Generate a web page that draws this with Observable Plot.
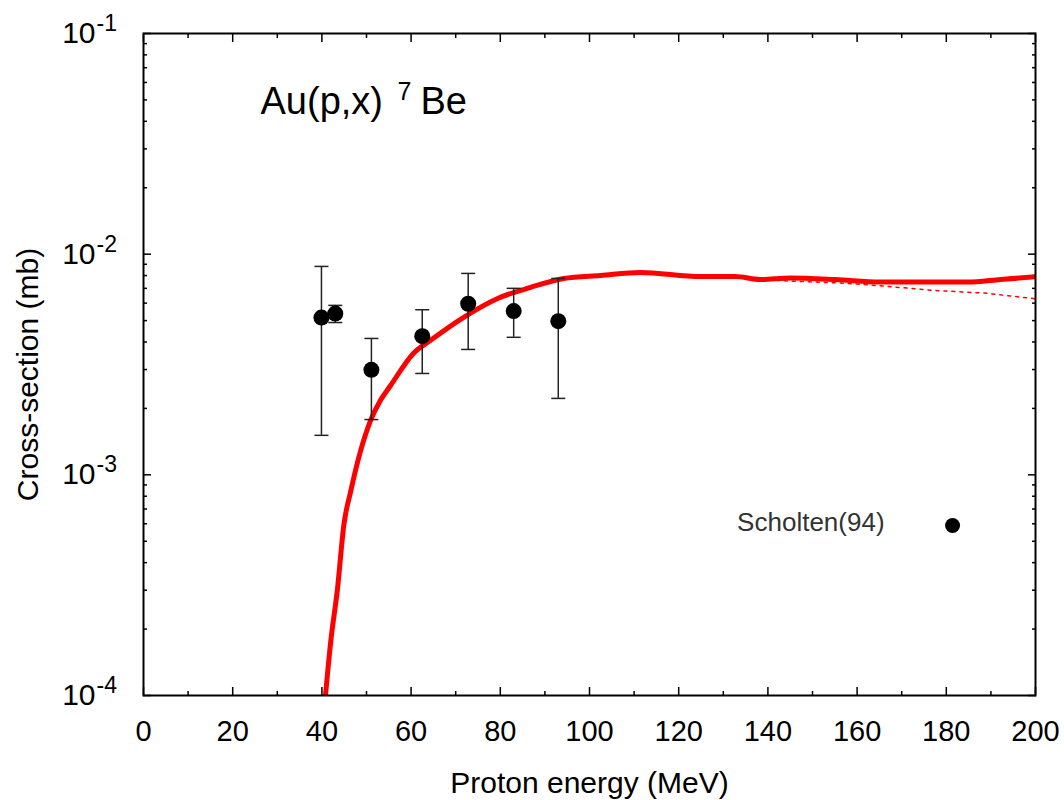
<!DOCTYPE html>
<html><head><meta charset="utf-8">
<script src="https://cdn.jsdelivr.net/npm/d3@7"></script>
<script src="https://cdn.jsdelivr.net/npm/@observablehq/plot@0.6"></script>
<style>body{margin:0;background:#fff}#chart{width:1064px;height:800px}</style>
</head><body><div id="chart"></div>
<script>
// Experimental data: Scholten(94)
const expEnergy = [39.9, 43.0, 51.1, 62.5, 72.8, 83.0, 93.0];
const expSigma  = [5.16e-3, 5.38e-3, 2.99e-3, 4.25e-3, 5.96e-3, 5.52e-3, 4.97e-3];
const expLow    = [1.51e-3, 4.90e-3, 1.78e-3, 2.88e-3, 3.70e-3, 4.20e-3, 2.22e-3];
const expHigh   = [8.80e-3, 5.86e-3, 4.15e-3, 5.60e-3, 8.18e-3, 7.00e-3, 7.76e-3];

// Model curve (solid)
const modelEnergy = [40.8, 42.0, 43.5, 44.9, 46.5, 48.7, 50.9, 53.1, 55.4, 60.5, 64.3, 71.7, 79.4, 86.8, 94.2, 102.5, 111.4, 124.9, 132.7, 138.3, 145.1, 155.2, 165.2, 184.8, 192.2, 200];
const modelSigma  = [1.0e-4, 1.77e-4, 3.05e-4, 5.89e-4, 8.49e-4, 1.29e-3, 1.76e-3, 2.17e-3, 2.54e-3, 3.55e-3, 4.06e-3, 5.16e-3, 6.30e-3, 7.07e-3, 7.76e-3, 8.01e-3, 8.26e-3, 7.92e-3, 7.92e-3, 7.68e-3, 7.80e-3, 7.67e-3, 7.47e-3, 7.47e-3, 7.68e-3, 7.90e-3];

// Model curve variant (dotted)
const altEnergy = [138.3, 145.0, 157.0, 164.0, 177.3, 188.6, 200];
const altSigma  = [7.68e-3, 7.55e-3, 7.39e-3, 7.22e-3, 6.85e-3, 6.66e-3, 6.28e-3];

// Axes
const xMajor = [0, 20, 40, 60, 80, 100, 120, 140, 160, 180, 200];
const xMinor = [10, 30, 50, 70, 90, 110, 130, 150, 170, 190];
const yMajor = [1e-4, 1e-3, 1e-2, 1e-1];
const yBase = ["10", "10", "10", "10"];
const yExp = ["-4", "-3", "-2", "-1"];
const yMinor = [1e-4, 1e-3, 1e-2].flatMap(d => [2,3,4,5,6,7,8,9].map(m => d * m));

// Texts
const titleMain = "Au(p,x)";
const titleSup = "7";
const titleTail = "Be";
const xLabel = "Proton energy (MeV)";
const yLabel = "Cross-section (mb)";
const legendLabel = "Scholten(94)";
const legendPos = [{x: 181.4, y: 5.89e-4}];

const exp = expEnergy.map((x, i) => ({x, y: expSigma[i], lo: expLow[i], hi: expHigh[i]}));
const model = modelEnergy.map((x, i) => ({x, y: modelSigma[i]}));
const alt = altEnergy.map((x, i) => ({x, y: altSigma[i]}));

const capSymbol = {draw(ctx, size) { const r = Math.sqrt(size / Math.PI); ctx.moveTo(-r, 0); ctx.lineTo(r, 0); }};
const none = () => "";
const font = "Liberation Sans, Arial, Helvetica, sans-serif";

const chart = Plot.plot({
  width: 1064, height: 800,
  marginLeft: 143, marginRight: 29, marginTop: 33, marginBottom: 105,
  style: {fontFamily: font, background: "#fff", color: "#000"},
  x: {domain: [0, 200]},
  y: {type: "log", domain: [1e-4, 1e-1]},
  marks: [
    // inward ticks on all four sides
    Plot.axisX(xMajor, {anchor: "bottom", tickSize: -8, tickFormat: none, strokeWidth: 1.5, label: null}),
    Plot.axisX(xMinor, {anchor: "bottom", tickSize: -4, tickFormat: none, strokeWidth: 1.5, label: null}),
    Plot.axisX(xMajor, {anchor: "top", tickSize: -8, tickFormat: none, strokeWidth: 1.5, label: null}),
    Plot.axisX(xMinor, {anchor: "top", tickSize: -4, tickFormat: none, strokeWidth: 1.5, label: null}),
    Plot.axisY(yMajor, {anchor: "left", tickSize: -8, tickFormat: none, strokeWidth: 1.5, label: null}),
    Plot.axisY(yMinor, {anchor: "left", tickSize: -4, tickFormat: none, strokeWidth: 1.5, label: null}),
    Plot.axisY(yMajor, {anchor: "right", tickSize: -8, tickFormat: none, strokeWidth: 1.5, label: null}),
    Plot.axisY(yMinor, {anchor: "right", tickSize: -4, tickFormat: none, strokeWidth: 1.5, label: null}),
    // tick labels
    Plot.text(xMajor, {x: d => d, text: d => String(d), frameAnchor: "bottom", dy: 36, fontSize: 29, textAnchor: "middle", lineAnchor: "middle", fill: "#000"}),
    Plot.text(yMajor, {y: d => d, text: (d, i) => yBase[i], frameAnchor: "left", textAnchor: "end", dx: -48, fontSize: 30, lineAnchor: "middle", fill: "#000"}),
    Plot.text(yMajor, {y: d => d, text: (d, i) => yExp[i], frameAnchor: "left", textAnchor: "start", dx: -47, dy: -10, fontSize: 23, lineAnchor: "middle", fill: "#000"}),
    // axis labels
    Plot.text([xLabel], {text: d => d, frameAnchor: "bottom", dy: 88, fontSize: 30, textAnchor: "middle", lineAnchor: "middle", fill: "#000"}),
    Plot.text([yLabel], {text: d => d, frameAnchor: "left", dx: -115, dy: 10, rotate: -90, fontSize: 30, textAnchor: "middle", lineAnchor: "middle", fill: "#000"}),
    // title
    Plot.text([titleMain], {text: d => d, frameAnchor: "top-left", dx: 117, dy: 80, textAnchor: "start", lineAnchor: "bottom", fontSize: 38, fill: "#000"}),
    Plot.text([titleSup], {text: d => d, frameAnchor: "top-left", dx: 254, dy: 66, textAnchor: "start", lineAnchor: "bottom", fontSize: 25, fill: "#000"}),
    Plot.text([titleTail], {text: d => d, frameAnchor: "top-left", dx: 277, dy: 80, textAnchor: "start", lineAnchor: "bottom", fontSize: 38, fill: "#000"}),
    // model curves
    Plot.line(alt, {x: "x", y: "y", stroke: "#ff0000", strokeWidth: 1.5, strokeDasharray: "3,5", clip: true}),
    Plot.line(model, {x: "x", y: "y", stroke: "#ff0000", strokeWidth: 5, curve: "monotone-x", clip: true}),
    // error bars
    Plot.ruleX(exp, {x: "x", y1: "lo", y2: "hi", stroke: "#222", strokeWidth: 1.5}),
    Plot.dot(exp, {x: "x", y: "lo", r: 7, symbol: capSymbol, stroke: "#222", strokeWidth: 1.5}),
    Plot.dot(exp, {x: "x", y: "hi", r: 7, symbol: capSymbol, stroke: "#222", strokeWidth: 1.5}),
    Plot.dot(exp, {x: "x", y: "y", r: 8, fill: "#000", stroke: null}),
    // legend
    Plot.dot(legendPos, {x: "x", y: "y", r: 7.5, fill: "#000", stroke: null}),
    Plot.text(legendPos, {x: "x", y: "y", text: () => legendLabel, textAnchor: "end", dx: -68, dy: -3, fontSize: 26, fill: "#333"}),
    Plot.frame({stroke: "#000", strokeWidth: 2})
  ]
});
document.getElementById("chart").appendChild(chart);
</script></body></html>
